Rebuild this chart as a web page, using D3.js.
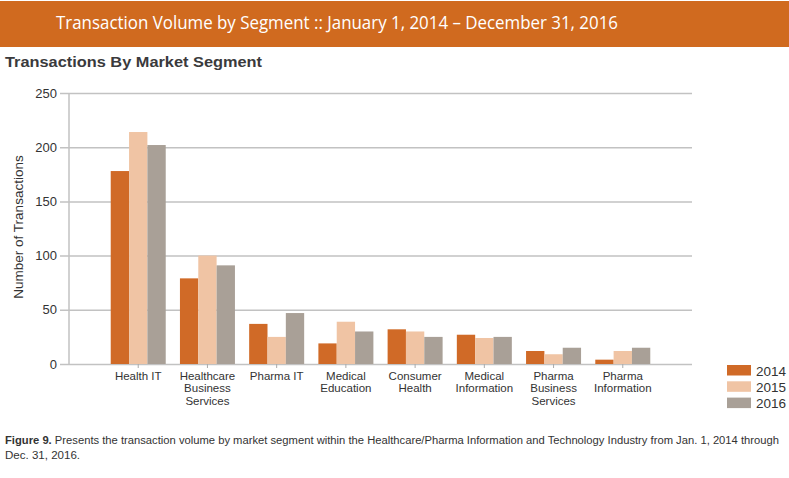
<!DOCTYPE html>
<html><head><meta charset="utf-8">
<script src="https://cdn.jsdelivr.net/npm/d3@7"></script>
<style>body{margin:0;background:#fff}svg{display:block}</style>
</head><body>
<svg id="c" width="789" height="478"></svg>
<script>
const categories = [
  ["Health IT"], ["Healthcare","Business","Services"], ["Pharma IT"],
  ["Medical","Education"], ["Consumer","Health"], ["Medical","Information"],
  ["Pharma","Business","Services"], ["Pharma","Information"]
];
const years = ["2014","2015","2016"];
const values2014 = [178, 79, 37, 19, 32, 27, 12, 4];
const values2015 = [214, 100, 25, 39, 30, 24, 9, 12];
const values2016 = [202, 91, 47, 30, 25, 25, 15, 15];
const yTicks = [0, 50, 100, 150, 200, 250];
const colors = ["#D06A27", "#F0C4A4", "#A9A097"];

const series = [values2014, values2015, values2016];
const catKeys = categories.map(c => c.join(" "));
const svg = d3.select("#c");

// header band
svg.append("rect").attr("x",0).attr("y",1).attr("width",789).attr("height",46).attr("fill","#D06A1F");
svg.append("text").attr("x",56).attr("y",28.5).attr("fill","#fff")
  .style("font-family","'Open Sans', sans-serif").style("font-size","18px")
  .attr("textLength",562).attr("lengthAdjust","spacingAndGlyphs")
  .text("Transaction Volume by Segment :: January 1, 2014 \u2013 December 31, 2016");

svg.append("text").attr("x",5).attr("y",66.5).attr("fill","#3a3a3c")
  .style("font-family","'Liberation Sans', Arial, sans-serif").style("font-size","15px").style("font-weight","bold")
  .attr("textLength",257).attr("lengthAdjust","spacingAndGlyphs")
  .text("Transactions By Market Segment");

const x0 = d3.scaleBand().domain(catKeys).range([69, 692]).paddingInner(0).paddingOuter(0.5);
const groupW = 55;
const x1 = d3.scaleBand().domain(years).range([(x0.bandwidth()-groupW)/2, (x0.bandwidth()+groupW)/2]);
const y = d3.scaleLinear().domain([0,250]).range([364, 93]);

// gridlines
const yAxis = d3.axisLeft(y).tickValues(yTicks).tickSize(-(692-60)).tickPadding(3).tickFormat(d3.format("d"));
const gy = svg.append("g").attr("transform","translate(60,0)").call(yAxis);
gy.select(".domain").remove();
gy.selectAll(".tick line").attr("stroke","#c2c2c2").attr("stroke-width",1.5);
gy.selectAll(".tick text").attr("fill","#333").style("font-family","'Liberation Sans', Arial, sans-serif").style("font-size","13px");

// vertical axis line
svg.append("line").attr("x1",69).attr("x2",69).attr("y1",y(250)).attr("y2",y(0)).attr("stroke","#c2c2c2").attr("stroke-width",1.5);

// bars
const g = svg.append("g");
catKeys.forEach((k, i) => {
  years.forEach((yr, j) => {
    g.append("rect")
      .attr("x", x0(k) + x1(yr))
      .attr("y", y(series[j][i]))
      .attr("width", x1.bandwidth())
      .attr("height", y(0) - y(series[j][i]))
      .attr("fill", colors[j]);
  });
});

// x axis ticks & labels
const xAxis = d3.axisBottom(x0).tickSize(4).tickFormat("");
const gx = svg.append("g").attr("transform",`translate(0,${y(0)})`).call(xAxis);
gx.select(".domain").remove();
gx.selectAll(".tick line").attr("stroke","#aaa").attr("stroke-width",1);
catKeys.forEach((k, i) => {
  const t = svg.append("text").attr("text-anchor","middle").attr("fill","#333")
    .style("font-family","'Liberation Sans', Arial, sans-serif").style("font-size","11.5px");
  categories[i].forEach((line, li) => {
    t.append("tspan").attr("x", x0(k) + x0.bandwidth()/2).attr("y", 379.5 + li*12.7).text(line);
  });
});

// y title
svg.append("text").attr("transform","translate(23,227) rotate(-90)").attr("text-anchor","middle")
  .attr("fill","#333").style("font-family","'Liberation Sans', Arial, sans-serif").style("font-size","13.5px")
  .text("Number of Transactions");

// legend
years.forEach((yr, j) => {
  svg.append("rect").attr("x",727).attr("y",365 + j*16.3).attr("width",24).attr("height",10.5).attr("fill",colors[j]);
  svg.append("text").attr("x",756).attr("y",375.5 + j*16.3).attr("fill","#333")
    .style("font-family","'Liberation Sans', Arial, sans-serif").style("font-size","13.5px").text(yr);
});

// caption
const cap = svg.append("text").attr("x",5).attr("y",443.5).attr("fill","#333")
  .style("font-family","'Liberation Sans', Arial, sans-serif").style("font-size","10px")
  .attr("textLength",774).attr("lengthAdjust","spacingAndGlyphs");
cap.append("tspan").style("font-weight","bold").text("Figure 9.");
cap.append("tspan").text(" Presents the transaction volume by market segment within the Healthcare/Pharma Information and Technology Industry from Jan. 1, 2014 through");
svg.append("text").attr("x",5).attr("y",458.5).attr("fill","#333")
  .style("font-family","'Liberation Sans', Arial, sans-serif").style("font-size","10px")
  .attr("textLength",75).attr("lengthAdjust","spacingAndGlyphs")
  .text("Dec. 31, 2016.");
</script>
</body></html>
